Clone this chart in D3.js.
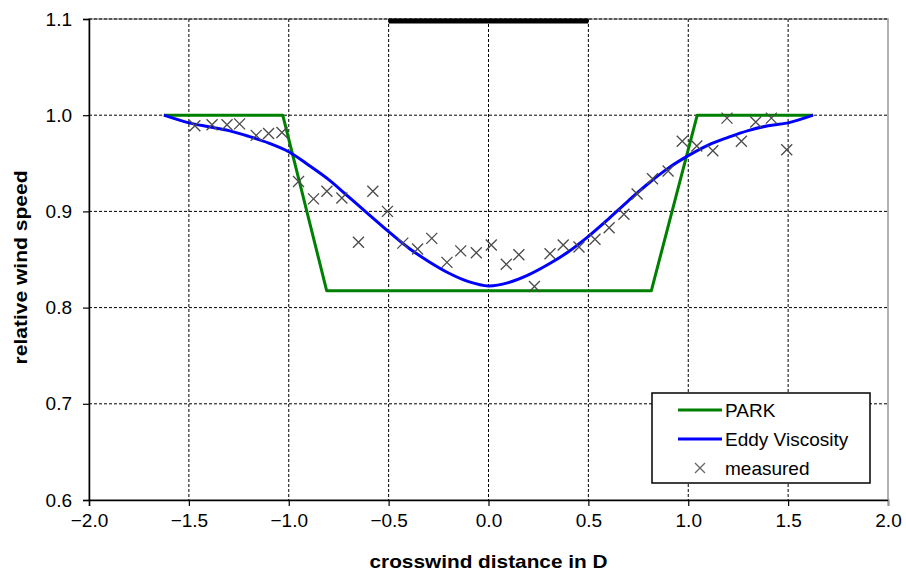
<!DOCTYPE html>
<html>
<head>
<meta charset="utf-8">
<script src="https://cdn.jsdelivr.net/npm/d3@7"></script>
<style>
  html, body { margin: 0; padding: 0; background: #fff; }
  svg { display: block; font-family: "Liberation Sans", Arial, sans-serif; }
  .grid line { stroke: #000; stroke-width: 1; stroke-dasharray: 3,2; }
  .tick text { fill: #000; }
</style>
</head>
<body>
<svg id="chart" width="906" height="572"></svg>
<script>
// Crosswind profile of relative wind speed behind a rotor (distance in rotor diameters D)

// PARK (top-hat) wake model
const parkX = [-1.625, -1.03, -0.81, 0.815, 1.045, 1.625];
const parkY = [1.0, 1.0, 0.8175, 0.8175, 1.0, 1.0];

// Eddy Viscosity wake model
const eddyX = [-1.625, -1.5, -1.4, -1.3, -1.2, -1.1, -1.0, -0.9, -0.8, -0.7, -0.6, -0.5, -0.4, -0.3, -0.2, -0.1,
               0.0, 0.1, 0.2, 0.3, 0.4, 0.5, 0.6, 0.7, 0.8, 0.9, 1.0, 1.1, 1.2, 1.3, 1.4, 1.5, 1.625];
const eddyY = [1.0, 0.992, 0.988, 0.984, 0.978, 0.971, 0.962, 0.948, 0.933, 0.915, 0.897, 0.879, 0.862, 0.848, 0.836, 0.827,
               0.8225, 0.826, 0.834, 0.845, 0.858, 0.874, 0.892, 0.911, 0.929, 0.945, 0.958, 0.969, 0.977, 0.984, 0.989, 0.992, 1.0];

// Measured relative wind speed
const measX = [-1.47, -1.384, -1.309, -1.246, -1.163, -1.101, -1.034, -0.951, -0.876, -0.809, -0.734, -0.651, -0.579, -0.506,
               -0.429, -0.355, -0.284, -0.208, -0.139, -0.061, 0.014, 0.089, 0.152, 0.23, 0.308, 0.374, 0.453, 0.533,
               0.604, 0.678, 0.744, 0.821, 0.899, 0.970, 1.043, 1.123, 1.194, 1.266, 1.338, 1.416, 1.493];
const measY = [0.989, 0.990, 0.990, 0.991, 0.979, 0.981, 0.982, 0.931, 0.913, 0.921, 0.914, 0.868, 0.921, 0.900,
               0.867, 0.861, 0.872, 0.847, 0.859, 0.857, 0.865, 0.845, 0.855, 0.822, 0.856, 0.865, 0.863, 0.871,
               0.883, 0.897, 0.918, 0.934, 0.942, 0.973, 0.968, 0.963, 0.997, 0.973, 0.993, 0.997, 0.964];

// Rotor extent
const rotorX = [-0.5, 0.5];
const rotorY = [1.1, 1.1];

// Axis ticks
const xTicks = [-2.0, -1.5, -1.0, -0.5, 0.0, 0.5, 1.0, 1.5, 2.0];
const yTicks = [0.6, 0.7, 0.8, 0.9, 1.0, 1.1];

const legendItems = ["PARK", "Eddy Viscosity", "measured"];

const svg = d3.select("#chart");
const plot = { left: 89, right: 888, top: 19, bottom: 500 };

const x = d3.scaleLinear().domain([-2, 2]).range([plot.left, plot.right]);
const y = d3.scaleLinear().domain([0.6, 1.1]).range([plot.bottom, plot.top]);

const zip = (xs, ys) => xs.map((v, i) => ({ x: v, y: ys[i] }));

// Plot area frame
svg.append("rect")
  .attr("x", plot.left).attr("y", plot.top)
  .attr("width", plot.right - plot.left).attr("height", plot.bottom - plot.top)
  .attr("fill", "#fff").attr("stroke", "#999").attr("stroke-width", 1.5);

// Gridlines
const grid = svg.append("g").attr("class", "grid");
grid.selectAll(".gx").data(xTicks.filter(t => t > -2 && t < 2)).join("line")
  .attr("x1", d => x(d)).attr("x2", d => x(d))
  .attr("y1", plot.top).attr("y2", plot.bottom);
grid.selectAll(".gy").data(yTicks.filter(t => t > 0.6)).join("line")
  .attr("x1", plot.left).attr("x2", plot.right)
  .attr("y1", d => y(d)).attr("y2", d => y(d));

// Axes
const xAxis = d3.axisBottom(x).tickValues(xTicks).tickFormat(d3.format(".1f")).tickSize(6).tickPadding(8);
const yAxis = d3.axisLeft(y).tickValues(yTicks).tickFormat(d3.format(".1f")).tickSize(6).tickPadding(11);

const gx = svg.append("g").attr("transform", `translate(0,${plot.bottom})`).call(xAxis);
const gy = svg.append("g").attr("transform", `translate(${plot.left},0)`).call(yAxis);
[gx, gy].forEach(g => {
  g.select(".domain").attr("stroke", "#000").attr("stroke-width", 1.5);
  g.selectAll(".tick line").attr("stroke", "#000").attr("stroke-width", 1.2);
  g.selectAll(".tick text").attr("font-size", 19);
});
gx.select(".tick:last-of-type line").attr("stroke", "#999");

// Rotor bar
svg.append("path")
  .datum(zip(rotorX, rotorY))
  .attr("d", d3.line().x(d => x(d.x)).y(d => y(d.y)))
  .attr("transform", "translate(0,2)")
  .attr("stroke", "#000").attr("stroke-width", 5).attr("fill", "none");

// PARK line
svg.append("path")
  .datum(zip(parkX, parkY))
  .attr("d", d3.line().x(d => x(d.x)).y(d => y(d.y)))
  .attr("stroke", "#008000").attr("stroke-width", 3).attr("fill", "none")
  .attr("stroke-linejoin", "round");

// Eddy Viscosity line
svg.append("path")
  .datum(zip(eddyX, eddyY))
  .attr("d", d3.line().x(d => x(d.x)).y(d => y(d.y)).curve(d3.curveCatmullRom.alpha(0.5)))
  .attr("stroke", "#0000ff").attr("stroke-width", 3).attr("fill", "none");

// Measured points as crosses
const cross = (cx, cy, r) => `M${cx - r},${cy - r}L${cx + r},${cy + r}M${cx - r},${cy + r}L${cx + r},${cy - r}`;
svg.append("g").selectAll("path").data(zip(measX, measY)).join("path")
  .attr("d", d => cross(x(d.x), y(d.y), 5.5))
  .attr("stroke", "#4a4a4a").attr("stroke-width", 1.3).attr("fill", "none");

// Axis titles
svg.append("text")
  .attr("x", (plot.left + plot.right) / 2).attr("y", 568)
  .attr("text-anchor", "middle").attr("font-size", 19).attr("font-weight", "bold")
  .attr("textLength", 238).attr("lengthAdjust", "spacingAndGlyphs")
  .text("crosswind distance in D");
svg.append("text")
  .attr("transform", `translate(27,${(plot.top + plot.bottom) / 2 + 8}) rotate(-90)`)
  .attr("text-anchor", "middle").attr("font-size", 19).attr("font-weight", "bold")
  .attr("textLength", 194).attr("lengthAdjust", "spacingAndGlyphs")
  .text("relative wind speed");

// Legend
const lg = svg.append("g").attr("transform", "translate(652,393)");
lg.append("rect").attr("width", 218).attr("height", 90)
  .attr("fill", "#fff").attr("stroke", "#000").attr("stroke-width", 1.5);
const rowY = [17, 46, 75];
const swatchColors = ["#008000", "#0000ff", null];
legendItems.forEach((name, i) => {
  if (swatchColors[i]) {
    lg.append("line").attr("x1", 26).attr("x2", 70).attr("y1", rowY[i]).attr("y2", rowY[i])
      .attr("stroke", swatchColors[i]).attr("stroke-width", 3);
  } else {
    lg.append("path").attr("d", cross(48, rowY[i], 5))
      .attr("stroke", "#666").attr("stroke-width", 1.3).attr("fill", "none");
  }
  lg.append("text").attr("x", 73).attr("y", rowY[i] + 7)
    .attr("font-size", 19).text(name);
});
</script>
</body>
</html>
